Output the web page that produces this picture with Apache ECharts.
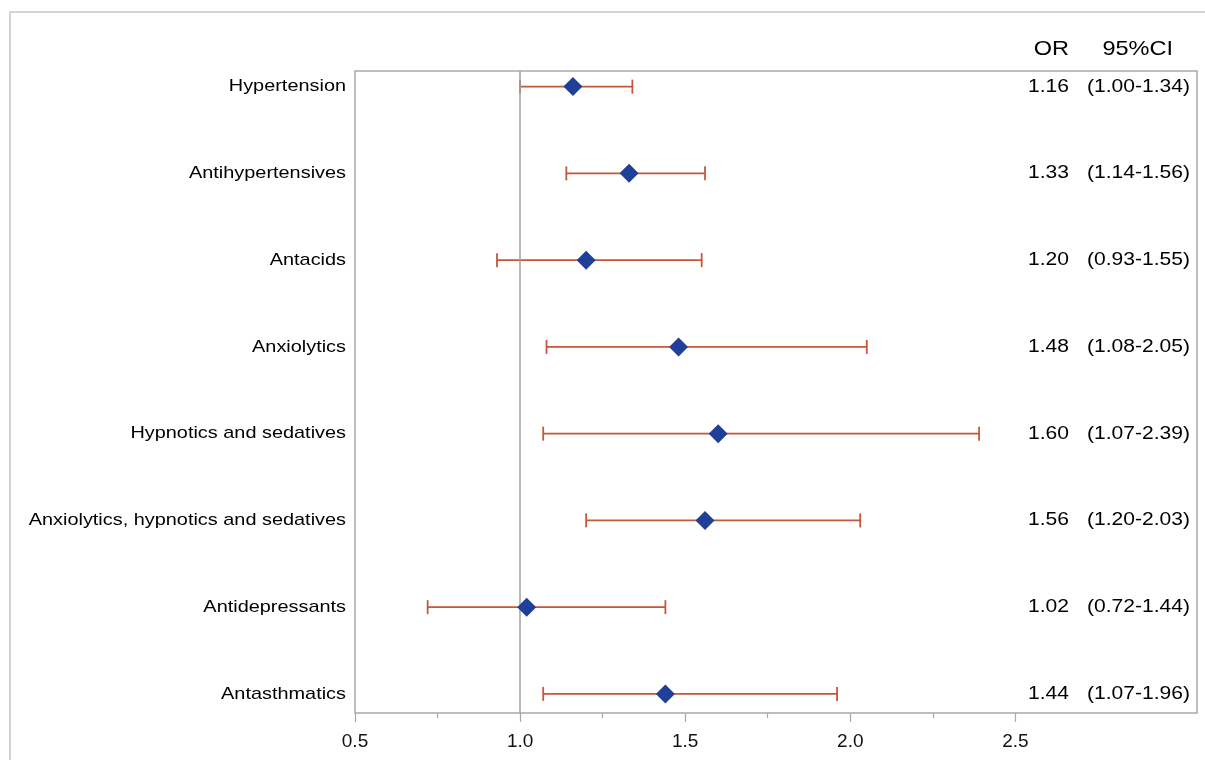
<!DOCTYPE html>
<html>
<head>
<meta charset="utf-8">
<script src="https://cdn.jsdelivr.net/npm/echarts@6/dist/echarts.min.js"></script>
<style>html,body{margin:0;padding:0;background:#fff}#chart{width:1205px;height:760px}</style>
</head>
<body>
<div id="chart"></div>
<script>
const categories = ['Hypertension','Antihypertensives','Antacids','Anxiolytics','Hypnotics and sedatives','Anxiolytics, hypnotics and sedatives','Antidepressants','Antasthmatics'];
const orValues = [1.16, 1.33, 1.20, 1.48, 1.60, 1.56, 1.02, 1.44];
const ciLower = [1.00, 1.14, 0.93, 1.08, 1.07, 1.20, 0.72, 1.07];
const ciUpper = [1.34, 1.56, 1.55, 2.05, 2.39, 2.03, 1.44, 1.96];
const majorTicks = [0.5, 1.0, 1.5, 2.0, 2.5];
const minorTicks = [0.75, 1.25, 1.75, 2.25];
const refValue = 1.0;

const FONT = '"Liberation Sans", Arial, sans-serif';
const SX = 1.17;
const chart = echarts.init(document.getElementById('chart'));

const rows = categories.map((c, i) => i);
const fmt = v => v.toFixed(2);

const option = {
  animation: false,
  backgroundColor: '#fff',
  grid: { left: 355, right: 8, top: 71, bottom: 47, show: true, borderColor: '#a9a9a9', borderWidth: 1.5, backgroundColor: 'transparent' },
  xAxis: [{
    type: 'value', min: 0.5, max: 3.05, interval: 0.5, position: 'bottom',
    axisLine: { show: false, onZero: false },
    splitLine: { show: false },
    axisTick: { show: true, customValues: majorTicks, length: 9, lineStyle: { color: '#a9a9a9', width: 1.2 } },
    axisLabel: { customValues: majorTicks, formatter: v => v.toFixed(1), color: '#111', fontSize: 19, fontFamily: FONT, margin: 19 }
  }, {
    type: 'value', min: 0.5, max: 3.05, position: 'bottom', offset: 0,
    axisLine: { show: false, onZero: false },
    splitLine: { show: false },
    axisTick: { show: true, customValues: minorTicks, length: 5, lineStyle: { color: '#a9a9a9', width: 1.2 } },
    axisLabel: { show: false }
  }],
  yAxis: { type: 'value', min: -0.18, max: 7.22, inverse: true, show: false },
  graphic: [
    { type: 'rect', shape: { x: 10, y: 12, width: 1210, height: 770 }, style: { fill: 'none', stroke: '#d4d4d4', lineWidth: 2 }, silent: true },
    { type: 'text', x: 1069, y: 49, scaleX: 1.12, style: { text: 'OR', font: '21px ' + FONT, fill: '#000', align: 'right', verticalAlign: 'middle' } },
    { type: 'text', x: 1173, y: 49, scaleX: 1.12, style: { text: '95%CI', font: '21px ' + FONT, fill: '#000', align: 'right', verticalAlign: 'middle' } }
  ],
  series: [
    {
      type: 'custom', name: 'ci', z: 3,
      data: rows.map(i => [ciLower[i], ciUpper[i], i]),
      encode: { x: [0, 1], y: 2 },
      renderItem: (params, api) => {
        const lo = api.coord([api.value(0), api.value(2)]);
        const hi = api.coord([api.value(1), api.value(2)]);
        const h = 7;
        const st = { stroke: '#c6573a', lineWidth: 1.8 };
        return { type: 'group', children: [
          { type: 'line', shape: { x1: lo[0], y1: lo[1], x2: hi[0], y2: hi[1] }, style: st },
          { type: 'line', shape: { x1: lo[0], y1: lo[1] - h, x2: lo[0], y2: lo[1] + h }, style: st },
          { type: 'line', shape: { x1: hi[0], y1: hi[1] - h, x2: hi[0], y2: hi[1] + h }, style: st }
        ]};
      },
      markLine: {
        silent: true, symbol: 'none', label: { show: false },
        lineStyle: { color: '#a0a0a0', width: 1.5, type: 'solid' },
        data: [{ xAxis: refValue }]
      }
    },
    {
      type: 'scatter', name: 'OR', z: 5,
      data: rows.map(i => [orValues[i], i]),
      symbol: 'diamond', symbolSize: 19,
      itemStyle: { color: '#1f3f98', opacity: 1 }
    },
    {
      type: 'custom', name: 'labels', z: 6, clip: false,
      data: rows.map(i => [0.5, i]),
      encode: { x: 0, y: 1 },
      renderItem: (params, api) => {
        const i = params.dataIndex;
        const p = api.coord([api.value(0), api.value(1)]);
        const right = api.coord([3.05, api.value(1)]);
        const font = '17px ' + FONT;
        return { type: 'group', children: [
          { type: 'text', x: p[0] - 9, y: p[1], scaleX: SX, style: { text: categories[i], font, fill: '#000', align: 'right', verticalAlign: 'middle' } },
          { type: 'text', x: right[0] - 128, y: p[1], scaleX: SX, style: { text: fmt(orValues[i]), font: '18px ' + FONT, fill: '#000', align: 'right', verticalAlign: 'middle' } },
          { type: 'text', x: right[0] - 7, y: p[1], scaleX: SX, style: { text: '(' + fmt(ciLower[i]) + '-' + fmt(ciUpper[i]) + ')', font: '18px ' + FONT, fill: '#000', align: 'right', verticalAlign: 'middle' } }
        ]};
      }
    }
  ]
};
chart.setOption(option);
</script>
</body>
</html>
